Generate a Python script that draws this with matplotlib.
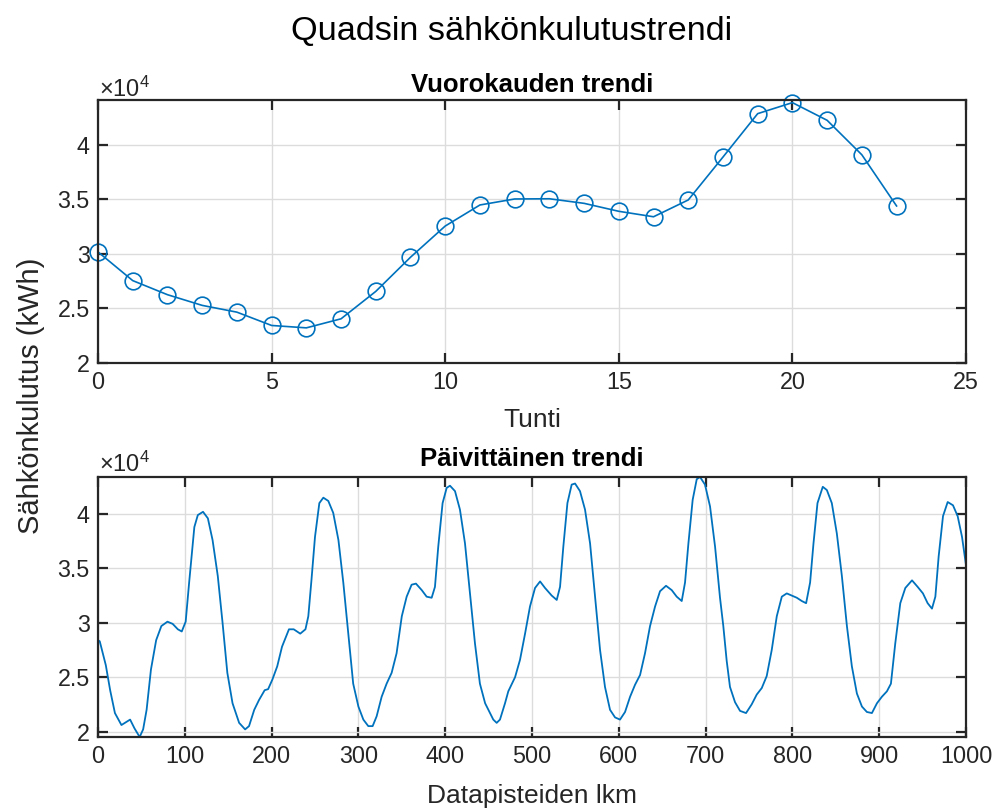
import matplotlib
matplotlib.use("Agg")
import matplotlib.pyplot as plt
from matplotlib.ticker import FuncFormatter

plt.rcParams['font.family'] = ['Liberation Sans', 'DejaVu Sans']
plt.rcParams['mathtext.fontset'] = 'custom'
plt.rcParams['mathtext.rm'] = 'Liberation Sans'

# ---------------- data ----------------
hours = list(range(24))
hourly_kwh = [30180, 27550, 26260, 25280, 24660, 23440, 23220, 24050, 26560, 29690,
              32550, 34480, 35030, 35050, 34630, 33900, 33400, 34940, 38870, 42850,
              43860, 42240, 39080, 34390]

points = [0, 2, 9, 14, 19.5, 27, 31, 37, 42, 48, 52, 56, 61, 67, 73, 80, 86, 92, 96.5,
          101, 105, 111, 115, 121, 126.6, 132, 138, 143.5, 149, 155, 162.6, 169.5, 174,
          180, 185.5, 192, 196, 201, 206.5, 212, 220, 225.5, 233, 239, 242.3, 246, 250,
          255, 259.6, 265.3, 271, 277, 282.6, 288.4, 294, 300, 305.7, 311.4, 316.4, 321,
          326.8, 332.5, 338.3, 344, 350, 355.6, 361.3, 366.3, 373, 378.6, 384.4, 388.2,
          392, 397, 401.7, 405.5, 411.3, 417, 422.8, 428.6, 434.3, 440, 446, 451.6, 455.4,
          459.3, 463.1, 468.9, 472.7, 480.5, 486.2, 492, 497.7, 503.5, 509.3, 515, 522.7,
          528.5, 532.3, 536.1, 540.8, 545.7, 549.6, 555.3, 561.1, 566.9, 572.6, 578.4,
          584.1, 589.9, 595.7, 601.4, 607.2, 613, 618.7, 624.5, 630.2, 636, 641.8, 647.5,
          654.4, 661, 666.7, 672.5, 676.3, 680.2, 685.1, 689.8, 693.6, 699.3, 705.1, 710.9,
          716.6, 720.4, 724.3, 728.1, 733.9, 739.7, 746.6, 753.1, 758.9, 764.7, 770.4,
          776.2, 782, 787.8, 793.5, 799.3, 805.1, 810.8, 815.8, 820.4, 824.3, 828.9, 835,
          839.7, 845.4, 851.2, 857, 862.8, 868.5, 874.3, 880.1, 885.8, 891.6, 897.4, 903.1,
          908.9, 913.5, 918.5, 924.3, 930.1, 937.8, 944.3, 950.4, 955.8, 960.8, 964.7,
          968.5, 973.5, 978.9, 985, 990.4, 995.4, 1000]
daily_kwh = [28400, 28300, 26100, 23800, 21700, 20600, 20800, 21100, 20300, 19500, 20200,
             22000, 25700, 28400, 29700, 30100, 29900, 29400, 29200, 30100, 33700, 38800,
             39900, 40200, 39600, 37600, 34300, 30000, 25400, 22600, 20800, 20200, 20500,
             22000, 22900, 23800, 23900, 24800, 26000, 27800, 29400, 29400, 29000, 29400,
             30600, 34000, 37900, 41000, 41500, 41200, 40100, 37600, 33700, 29000, 24400,
             22300, 21100, 20500, 20500, 21400, 23200, 24400, 25400, 27200, 30600, 32400,
             33500, 33600, 33000, 32400, 32300, 33300, 37000, 41000, 42400, 42600, 42100,
             40400, 37300, 32700, 28100, 24400, 22600, 21700, 21100, 20800, 21100, 22600,
             23700, 25000, 26600, 29000, 31500, 33200, 33800, 33200, 32500, 32100, 33300,
             37000, 41000, 42700, 42800, 42100, 40400, 37300, 32400, 27500, 24100, 22000,
             21300, 21100, 21800, 23200, 24300, 25200, 27200, 29700, 31500, 32900, 33400,
             33000, 32400, 32000, 33700, 37300, 41300, 43200, 43400, 42700, 40700, 37000,
             32300, 29700, 26500, 24100, 22700, 21900, 21700, 22500, 23400, 24000, 25100,
             27500, 30600, 32400, 32700, 32500, 32300, 32000, 31800, 33700, 37300, 41000,
             42500, 42200, 41000, 38200, 34300, 29700, 26000, 23500, 22300, 21800, 21700,
             22600, 23200, 23700, 24400, 28100, 31800, 33200, 33900, 33300, 32700, 31800,
             31300, 32400, 36100, 39800, 41100, 40800, 39800, 37900, 35300]

top_xticks = [0, 5, 10, 15, 20, 25]
yticks_vals = [20000, 25000, 30000, 35000, 40000]
bottom_xticks = list(range(0, 1001, 100))

# ---------------- figure ----------------
W, H = 998, 808
fig = plt.figure(figsize=(W / 100, H / 100), dpi=100)
blue = '#0072BD'
dark = '#262626'

def px(x0, y0, x1, y1):
    return [x0 / W, 1 - y1 / H, (x1 - x0) / W, (y1 - y0) / H]

ax1 = fig.add_axes(px(98, 100, 966, 363))
ax2 = fig.add_axes(px(98, 477, 966, 737))

fmt = FuncFormatter(lambda v, p: ('%g' % (v / 1e4)))

for ax in (ax1, ax2):
    for s in ax.spines.values():
        s.set_linewidth(1.6)
        s.set_color(dark)
    ax.tick_params(direction='in', top=True, right=True, length=7, width=1.6,
                   colors=dark, labelsize=16.8, pad=6)
    ax.grid(True, color='#dcdcdc', linewidth=1)
    ax.set_axisbelow(True)
    ax.yaxis.set_major_formatter(fmt)
    ax.set_yticks(yticks_vals)

ax1.plot(hours, hourly_kwh, '-o', color=blue, linewidth=1.2, markersize=12,
         markerfacecolor='none', markeredgewidth=1.2, clip_on=False)
ax1.set_xlim(0, 25)
ax1.set_ylim(20000, 44100)
ax1.set_xticks(top_xticks)

ax2.plot(points, daily_kwh, '-', color=blue, linewidth=1.3)
ax2.set_xlim(0, 1000)
ax2.set_ylim(19500, 43400)
ax2.set_xticks(bottom_xticks)

# texts
fig.text(512 / W, 1 - 31 / H, 'Quadsin sähkönkulutustrendi', ha='center', va='center',
         fontsize=24.7, color='black')
fig.text(532 / W, 1 - 85 / H, 'Vuorokauden trendi', ha='center', va='center',
         fontsize=18.5, fontweight='bold', color='black')
fig.text(532 / W, 1 - 459 / H, 'Päivittäinen trendi', ha='center', va='center',
         fontsize=18.5, fontweight='bold', color='black')
fig.text(532 / W, 1 - 420 / H, 'Tunti', ha='center', va='center', fontsize=19, color=dark)
fig.text(532 / W, 1 - 796 / H, 'Datapisteiden lkm', ha='center', va='center',
         fontsize=19, color=dark)
fig.text(31 / W, 1 - 396 / H, 'Sähkönkulutus (kWh)', ha='center', va='center',
         rotation=90, fontsize=21, color=dark)
for ytop in (97, 472):
    fig.text(99 / W, 1 - ytop / H, r'$\times\mathregular{10^{4}}$', ha='left',
             va='baseline', fontsize=17, color=dark)

fig.savefig('out.png', dpi=100)
